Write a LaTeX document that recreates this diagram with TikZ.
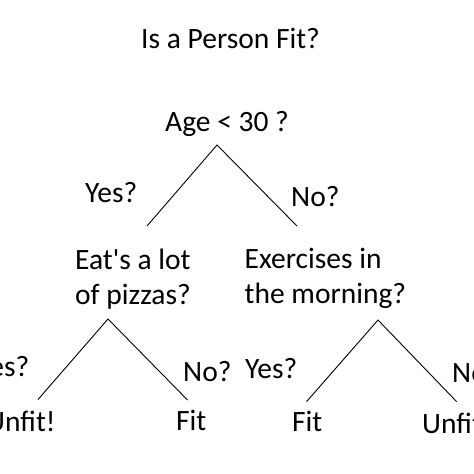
\documentclass[tikz,border=0pt]{standalone}
\usepackage{fontspec}
\setmainfont{Carlito}[Ligatures=TeXOff]
\begin{document}
\begin{tikzpicture}[x=1pt,y=-1pt,
  lbl/.style={anchor=base west,inner sep=0pt,font=\fontsize{29.5}{35}\selectfont,text=black},
  branch/.style={line width=0.9pt,black}]
\clip (0,0) rectangle (474,474);
\fill[white] (0,0) rectangle (474,474);
% texts
\node[lbl] (title) at (141,48) {Is a Person Fit?};
\node[lbl] (age) at (165,131) {Age < 30 ?};
\node[lbl] (yesA) at (85,202) {Yes?};
\node[lbl] (noA) at (291,206.5) {No?};
\node[lbl] (eat) at (75,269) {\begin{tabular}[t]{@{}l@{}}Eat's a lot\\of pizzas?\end{tabular}};
\node[lbl] (exe) at (244.5,268.3) {\begin{tabular}[t]{@{}l@{}}Exercises in\\the morning?\end{tabular}};
\node[lbl] (yesB) at (-23,376) {Yes?};
\node[lbl] (noB) at (183,381) {No?};
\node[lbl] (yesC) at (245,378) {Yes?};
\node[lbl] (noC) at (452,382.7) {No?};
\node[lbl] (unfitA) at (-14,431) {Unfit!};
\node[lbl] (fitA) at (176,430) {Fit};
\node[lbl] (fitB) at (292,431.7) {Fit};
\node[lbl] (unfitB) at (422,433) {Unfit!};
% branch points
\coordinate (vA) at (217,145);
\coordinate (lA) at (147,226);
\coordinate (rA) at (297,226);
\coordinate (vB) at (108,319);
\coordinate (lB) at (38,399.5);
\coordinate (rB) at (187.5,400);
\coordinate (vC) at (378,320);
\coordinate (lC) at (306.5,401.7);
\coordinate (rC) at (456.7,401.7);
\draw[branch] (lA) -- (vA) -- (rA);
\draw[branch] (lB) -- (vB) -- (rB);
\draw[branch] (lC) -- (vC) -- (rC);
\end{tikzpicture}
\end{document}
